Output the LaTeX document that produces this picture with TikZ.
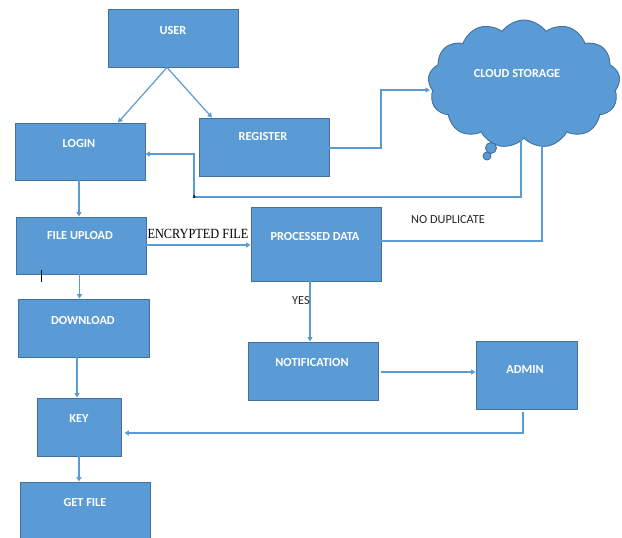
\documentclass[tikz,border=0pt]{standalone}
\usepackage{fontspec}
\setmainfont{Carlito}
\newfontfamily\serifx{Liberation Serif}
\usetikzlibrary{arrows.meta,shapes.symbols,calc}
\definecolor{boxblue}{HTML}{5B9BD5}
\definecolor{boxedge}{HTML}{41719C}
\definecolor{lineblue}{HTML}{5B9BD5}
\tikzset{
  box/.style={draw=boxedge, line width=0.9pt, fill=boxblue, rectangle, inner sep=0pt},
  txt/.style={text=white, font=\fontsize{12.3}{12.3}\selectfont\bfseries, inner sep=0pt},
  lbl/.style={text=black!85, font=\fontsize{12.3}{12.3}\selectfont, inner sep=0pt},
  arr/.style={draw=lineblue, line width=1.2pt, -{Triangle[width=5pt,length=4.5pt]}},
  ln/.style={draw=lineblue, line width=1.2pt},
}
\begin{document}
\begin{tikzpicture}[x=1pt,y=-1pt]
\clip (0,0) rectangle (622,538);
\fill[white] (0,0) rectangle (622,538);
% boxes
\node[box, minimum width=130, minimum height=58] (user) at (173,38) {};
\node[txt] (userT) at (173,31) {USER};
\node[box, minimum width=130, minimum height=57] (login) at (80,151.5) {};
\node[txt] (loginT) at (79,144) {LOGIN};
\node[box, minimum width=130, minimum height=58] (register) at (264,147) {};
\node[txt] (registerT) at (263,137) {REGISTER};
\node[box, minimum width=130, minimum height=57] (upload) at (81,245.5) {};
\node[txt] (uploadT) at (80,236) {FILE UPLOAD};
\node[box, minimum width=130, minimum height=74] (processed) at (316,244) {};
\node[txt] (processedT) at (315,237) {PROCESSED DATA};
\node[box, minimum width=131, minimum height=58] (download) at (83.5,328) {};
\node[txt] (downloadT) at (83,321) {DOWNLOAD};
\node[box, minimum width=84, minimum height=58] (key) at (79,427) {};
\node[txt] (keyT) at (79,419) {KEY};
\node[box, minimum width=130, minimum height=60] (getfile) at (85,512) {};
\node[txt] (getfileT) at (85,503) {GET FILE};
\node[box, minimum width=130, minimum height=58] (notif) at (313,371) {};
\node[txt] (notifT) at (312,363) {NOTIFICATION};
\node[box, minimum width=101, minimum height=68] (admin) at (526.5,375) {};
\node[txt] (adminT) at (525,370) {ADMIN};
% cloud
\node[box, cloud, cloud puffs=13, cloud puff arc=110, aspect=1.6, minimum width=192, minimum height=128] (cloud) at (524,84) {};
\node[box, circle, minimum size=11] (bub1) at (491,148) {};
\node[box, circle, minimum size=8] (bub2) at (487,156) {};
\node[txt] (cloudT) at (517,74) {CLOUD STORAGE};
% named coordinates
\coordinate (c1) at (381,90);
\coordinate (c2) at (430,90);
\coordinate (a1) at (194,197);
% connectors
\draw[arr] ([xshift=-6]user.south) -- ([xshift=38]login.north);
\draw[arr] ([xshift=-6]user.south) -- ([xshift=-52]register.north);
\draw[arr] ([yshift=-1]register.east) -| (c1) -- (c2);
\draw[arr] ([xshift=-3]cloud.south) |- (a1) |- ([yshift=-2.5]login.east);
\draw[arr] ([xshift=-1]login.south) -- ([xshift=-1]login.south |- upload.north);
\draw[arr] ([yshift=0.5]upload.east) -- ([yshift=0.5]upload.east -| processed.west);
\draw[arr] ([yshift=3]processed.east) -| ([xshift=18]cloud.south);
\draw[arr] ([xshift=-6]processed.south) -- ([xshift=-6]processed.south |- notif.north);
\draw[arr] ([xshift=3,yshift=-1]notif.east) -- ([yshift=-1]notif.east -| admin.west);
\draw[arr] ([xshift=-1.5]upload.south) -- ([xshift=-1.5]upload.south |- download.north);
\draw[arr] ([xshift=-6.5]download.south) -- ([xshift=-6.5]download.south |- key.north);
\draw[arr] (key.south) -- (key.south |- getfile.north);
\coordinate (d1) at (523,412);
\draw[arr] (d1) |- ([xshift=3,yshift=-6]key.east);
% labels
\node[inner sep=0pt, font=\serifx\fontsize{14}{14}\selectfont] (enc) at (198,234) {\scalebox{0.88}[1]{ENCRYPTED FILE}};
\node[lbl] (nodup) at (448,220) {NO DUPLICATE};
\node[lbl] (yes) at (301,301) {YES};
% stray marks
\node[inner sep=0pt, font=\fontsize{6}{6}\selectfont\bfseries] (mark) at (194,197) {a};
\draw[black, line width=0.7pt] (41,270) -- (41,282);
\end{tikzpicture}
\end{document}
